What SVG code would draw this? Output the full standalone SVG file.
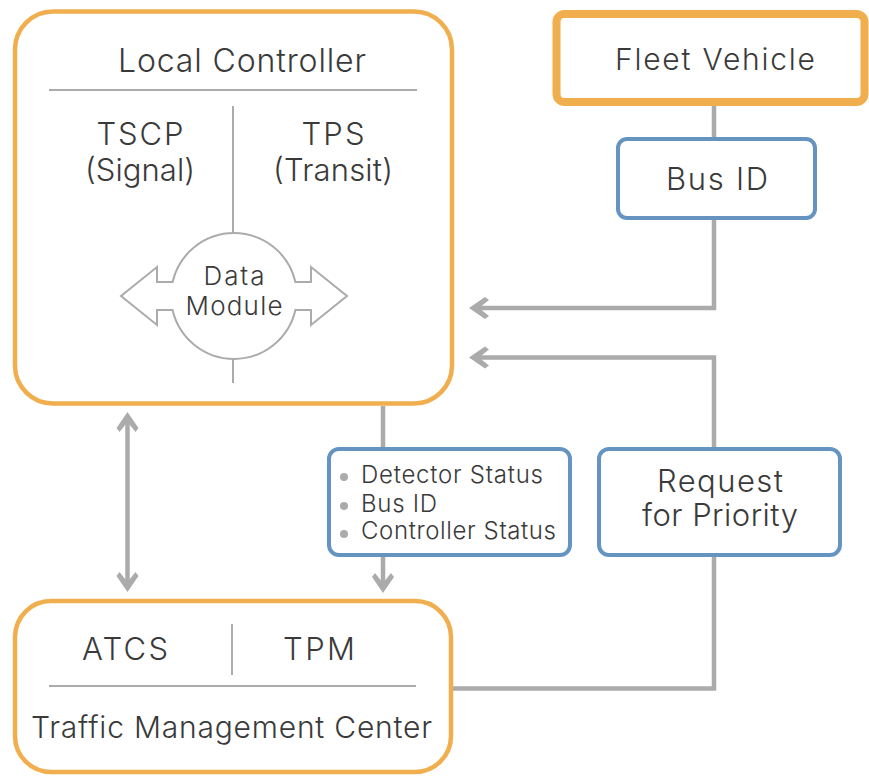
<svg xmlns="http://www.w3.org/2000/svg" width="869" height="776" viewBox="0 0 869 776">
  <defs>
    <style>
      .orange { fill: #ffffff; stroke: #f0ae4f; stroke-width: 4.5; }
      .orange-thick { fill: #ffffff; stroke: #f0ae4f; stroke-width: 8; }
      .blue { fill: #ffffff; stroke: #6594c0; stroke-width: 4; }
      .inner { fill: none; stroke: #ababab; stroke-width: 2; }
      .conn { fill: none; stroke: #ababab; stroke-width: 4.5; }
      .txt { font-family: Inter, "Liberation Sans", Arial, sans-serif; font-weight: 300; fill: #3a3a3a; text-anchor: middle; }
      .ltxt { font-family: Inter, "Liberation Sans", Arial, sans-serif; font-weight: 300; fill: #3a3a3a; text-anchor: start; }
      .bullet { fill: #ababab; }
    </style>
    <marker id="head" viewBox="-20 -12 22 24" markerWidth="22" markerHeight="24" refX="-8" refY="0" orient="auto-start-reverse" markerUnits="userSpaceOnUse" overflow="visible">
      <path d="M0,0 L-16,-11 L-20,-8 L-10,0 L-20,8 L-16,11 Z" fill="#ababab"/>
    </marker>
  </defs>

  <g id="connectors">
    <line class="conn" x1="714" y1="104" x2="714" y2="139"/>
    <path class="conn" d="M714,218 V308 H477" marker-end="url(#head)"/>
    <path class="conn" d="M714,449 V357.5 H477" marker-end="url(#head)"/>
    <path class="conn" d="M714,555 V688.5 H453"/>
    <line class="conn" x1="383" y1="406" x2="383" y2="449"/>
    <line class="conn" x1="383" y1="555" x2="383" y2="585" marker-end="url(#head)"/>
    <line class="conn" x1="127.5" y1="420" x2="127.5" y2="584" marker-start="url(#head)" marker-end="url(#head)"/>
  </g>

  <g id="local-controller">
    <rect class="orange" x="15" y="11.5" width="437" height="392" rx="38"/>
    <text class="txt" x="242" y="72" font-size="32" textLength="248">Local Controller</text>
    <line class="inner" x1="49" y1="90" x2="417" y2="90"/>
    <line class="inner" x1="233" y1="106" x2="233" y2="233"/>
    <line class="inner" x1="233" y1="359" x2="233" y2="383"/>
    <text class="txt" x="140" y="145" font-size="31" textLength="87">TSCP</text>
    <text class="txt" x="140" y="181" font-size="31" textLength="110">(Signal)</text>
    <text class="txt" x="333" y="145" font-size="31" textLength="63">TPS</text>
    <text class="txt" x="333" y="181" font-size="31" textLength="120">(Transit)</text>
    <g id="data-module">
      <path class="inner" d="M295.4,282 A63 63 0 0 0 172.6,282 L157,282 L157,267 L121,296 L157,325 L157,310 L172.6,310 A63 63 0 0 0 295.4,310 L311,310 L311,325 L347,296 L311,267 L311,282 Z" fill="#ffffff"/>
      <text class="txt" x="234" y="285" font-size="26" textLength="61">Data</text>
      <text class="txt" x="234" y="315" font-size="26" textLength="97">Module</text>
    </g>
  </g>

  <g id="fleet-vehicle">
    <rect class="orange-thick" x="556.5" y="14" width="308" height="88" rx="8"/>
    <text class="txt" x="715" y="70" font-size="30" textLength="200">Fleet Vehicle</text>
  </g>

  <g id="bus-id">
    <rect class="blue" x="618" y="139" width="197" height="79" rx="9"/>
    <text class="txt" x="717" y="190" font-size="31" textLength="102">Bus ID</text>
  </g>

  <g id="status-box">
    <rect class="blue" x="329" y="449" width="241" height="106" rx="10"/>
    <circle class="bullet" cx="344" cy="477" r="4"/>
    <circle class="bullet" cx="344" cy="506" r="4"/>
    <circle class="bullet" cx="344" cy="534" r="4"/>
    <text class="ltxt" x="361" y="483" font-size="24" textLength="182">Detector Status</text>
    <text class="ltxt" x="361" y="512" font-size="24" textLength="76">Bus ID</text>
    <text class="ltxt" x="361" y="539" font-size="24" textLength="195">Controller Status</text>
  </g>

  <g id="request-priority">
    <rect class="blue" x="599" y="449" width="241" height="106" rx="10"/>
    <text class="txt" x="720" y="492" font-size="31" textLength="126">Request</text>
    <text class="txt" x="720" y="526" font-size="31" textLength="156">for Priority</text>
  </g>

  <g id="traffic-management-center">
    <rect class="orange" x="15" y="601" width="436" height="171" rx="36"/>
    <text class="txt" x="125" y="660" font-size="31" textLength="86">ATCS</text>
    <text class="txt" x="319" y="660" font-size="31" textLength="72">TPM</text>
    <line class="inner" x1="232" y1="624" x2="232" y2="675"/>
    <line class="inner" x1="49" y1="686" x2="416" y2="686"/>
    <text class="txt" x="231.5" y="738" font-size="30" textLength="401">Traffic Management Center</text>
  </g>
</svg>
